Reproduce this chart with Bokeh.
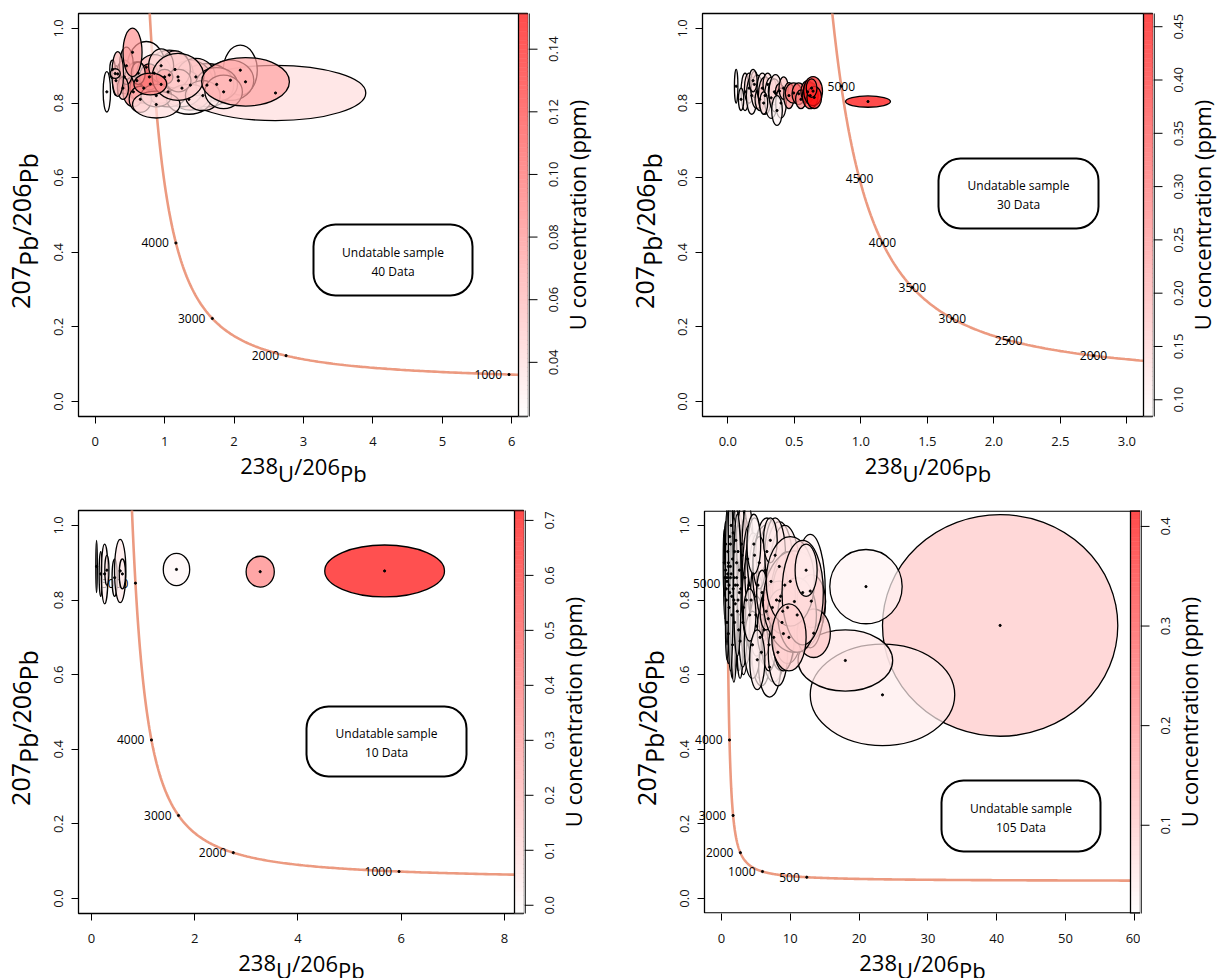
import math
import numpy as np
from bokeh.plotting import figure
from bokeh.layouts import column, row
from bokeh.models import (Range1d, BoxAnnotation, FixedTicker, PrintfTickFormatter, Label)
from bokeh.embed import file_html
from bokeh.resources import INLINE
from bokeh.core.properties import value

FONT = "Open Sans"

# ---------------- data ----------------
# Panel A : 40 data
a_x = [2.597, 2.090, 1.948, 1.610, 1.371, 1.068, 0.736, 0.42, 0.60, 0.95, 0.70, 1.25, 0.55, 1.45,
       0.30, 0.85, 1.05, 1.75, 0.45, 1.15, 0.65, 1.35, 0.78, 0.95, 1.55, 0.40, 1.20, 0.62, 1.85,
       0.88, 1.00, 0.25, 0.880, 1.193, 2.165, 0.325, 0.289, 0.168, 0.538, 0.794]
a_y = [0.827, 0.888, 0.861, 0.848, 0.848, 0.875, 0.896, 0.87, 0.86, 0.85, 0.84, 0.84, 0.83, 0.87,
       0.86, 0.88, 0.83, 0.85, 0.90, 0.89, 0.81, 0.81, 0.87, 0.90, 0.82, 0.84, 0.86, 0.88, 0.83,
       0.82, 0.87, 0.89, 0.796, 0.870, 0.857, 0.878, 0.879, 0.830, 0.936, 0.851]
a_ex = [1.30, 0.245, 0.336, 0.385, 0.336, 0.346, 0.276, 0.12, 0.18, 0.30, 0.20, 0.30, 0.15, 0.28,
        0.05, 0.25, 0.28, 0.30, 0.10, 0.22, 0.16, 0.32, 0.14, 0.18, 0.25, 0.08, 0.18, 0.10, 0.27,
        0.22, 0.12, 0.04, 0.342, 0.372, 0.632, 0.084, 0.072, 0.053, 0.137, 0.236]
a_ey = [0.074, 0.067, 0.054, 0.058, 0.067, 0.067, 0.069, 0.045, 0.05, 0.05, 0.04, 0.05, 0.04, 0.05,
        0.04, 0.05, 0.04, 0.045, 0.05, 0.05, 0.035, 0.04, 0.035, 0.045, 0.04, 0.03, 0.03, 0.03, 0.045,
        0.03, 0.02, 0.025, 0.036, 0.063, 0.065, 0.060, 0.013, 0.054, 0.065, 0.029]
a_u = [0.040, 0.025, 0.050, 0.050, 0.070, 0.060, 0.030, 0.05, 0.07, 0.06, 0.09, 0.04, 0.08, 0.05,
       0.04, 0.06, 0.07, 0.04, 0.05, 0.04, 0.06, 0.03, 0.10, 0.04, 0.04, 0.06, 0.05, 0.04, 0.03,
       0.05, 0.10, 0.03, 0.040, 0.050, 0.069, 0.060, 0.050, 0.025, 0.077, 0.090]

# Panel B : 30 data
b_x = [0.063, 0.13, 0.16, 0.18, 0.20, 0.22, 0.24, 0.26, 0.28, 0.30, 0.326, 0.35, 0.359, 0.389, 0.40,
       0.42, 0.46, 0.495, 0.533, 0.55, 0.60, 0.62, 0.641, 0.65, 0.63, 1.054, 0.10, 0.19, 0.27, 0.37]
b_y = [0.845, 0.83, 0.84, 0.82, 0.85, 0.83, 0.81, 0.84, 0.82, 0.85, 0.814, 0.83, 0.826, 0.832, 0.80,
       0.84, 0.82, 0.827, 0.825, 0.81, 0.83, 0.82, 0.832, 0.815, 0.84, 0.804, 0.81, 0.86, 0.80, 0.78]
b_ex = [0.013, 0.03, 0.035, 0.04, 0.03, 0.045, 0.035, 0.04, 0.05, 0.035, 0.05, 0.045, 0.05, 0.03, 0.04,
        0.035, 0.04, 0.063, 0.05, 0.04, 0.05, 0.06, 0.071, 0.055, 0.04, 0.169, 0.02, 0.03, 0.03, 0.04]
b_ey = [0.045, 0.05, 0.04, 0.05, 0.035, 0.045, 0.03, 0.04, 0.05, 0.03, 0.055, 0.035, 0.05, 0.02, 0.04,
        0.03, 0.035, 0.027, 0.029, 0.025, 0.03, 0.035, 0.039, 0.03, 0.025, 0.0152, 0.03, 0.03, 0.03, 0.04]
b_u = [0.10, 0.12, 0.14, 0.11, 0.16, 0.13, 0.15, 0.12, 0.17, 0.14, 0.11, 0.19, 0.13, 0.22, 0.12,
       0.18, 0.25, 0.30, 0.32, 0.27, 0.36, 0.40, 0.42, 0.44, 0.38, 0.46, 0.11, 0.13, 0.12, 0.10]

# Panel C : 10 data
c_x = [0.10, 0.18, 0.256, 0.30, 0.45, 0.558, 0.60, 1.648, 3.27, 5.68]
c_y = [0.89, 0.87, 0.87, 0.88, 0.86, 0.878, 0.87, 0.882, 0.876, 0.878]
c_ex = [0.015, 0.03, 0.064, 0.04, 0.05, 0.11, 0.06, 0.256, 0.273, 1.16]
c_ey = [0.07, 0.06, 0.08, 0.04, 0.05, 0.085, 0.04, 0.0433, 0.0414, 0.0695]
c_u = [0.04, 0.05, 0.03, 0.06, 0.02, 0.05, 0.04, 0.01, 0.35, 0.70]

# Panel D : 105 data
d_x = [40.5, 23.4, 18.0, 21.0,
       0.6, 0.8, 1.0, 1.2, 1.4, 0.9, 1.6, 1.1, 1.8, 0.7, 1.3, 2.0, 1.5, 2.2, 1.7, 2.4, 0.5, 1.9, 2.6, 1.0,
       2.8, 1.2, 3.0, 2.1, 3.2, 0.8, 1.4, 2.5, 3.4, 1.6, 0.4, 2.3, 2.9, 1.1, 1.9, 2.7, 3.6, 1.3, 2.0, 0.6,
       3.1, 1.7, 2.4, 0.9, 3.8, 1.5, 2.2, 4.0, 0.7, 2.6, 1.0, 1.8, 1.3, 0.8, 2.3,
       4.3, 4.6, 5.0, 5.3, 5.6, 4.8, 6.0, 6.4, 5.8, 6.8, 7.2, 5.1, 6.6, 7.6, 4.5, 8.0, 7.0, 8.4, 5.5,
       6.2, 8.8, 7.4, 9.2, 5.9, 4.1, 6.9, 8.2, 4.7, 7.8, 9.6, 6.5, 5.2, 8.6, 7.1, 9.0,
       8.45, 8.9, 10.6, 12.9, 13.05, 13.4, 11.0, 10.0, 11.8, 9.8, 12.3]
d_y = [0.732, 0.546, 0.638, 0.836,
       0.88, 0.85, 0.90, 0.82, 0.87, 0.93, 0.91, 0.78, 0.86, 0.80, 0.95, 0.84, 0.76, 0.90, 0.98, 0.80,
       0.86, 0.74, 0.88, 0.71, 0.83, 0.97, 0.92, 0.96, 0.78, 0.74, 1.00, 0.72, 0.86, 0.68, 0.90, 0.77,
       0.95, 0.84, 0.93, 0.69, 0.80, 0.89, 0.79, 0.95, 0.74, 0.83, 0.93, 0.87, 0.91, 0.81, 0.86, 0.84,
       0.83, 0.82, 0.89, 0.80, 0.86, 0.86, 0.84,
       0.80, 0.87, 0.76, 0.84, 0.70, 0.92, 0.80, 0.88, 0.66, 0.75, 0.85, 0.73, 0.93, 0.70, 0.68, 0.80,
       0.62, 0.89, 0.90, 0.72, 0.74, 0.78, 0.84, 0.82, 0.76, 0.68, 0.66, 0.95, 0.92, 0.78, 0.77, 0.64,
       0.81, 0.96, 0.71,
       0.798, 0.770, 0.796, 0.824, 0.797, 0.711, 0.76, 0.85, 0.82, 0.70, 0.88]
d_ex = [17.1, 10.5, 6.88, 5.26,
        0.25, 0.30, 0.28, 0.40, 0.35, 0.22, 0.45, 0.32, 0.50, 0.22, 0.30, 0.55, 0.35, 0.60, 0.35, 0.60,
        0.18, 0.45, 0.65, 0.30, 0.70, 0.25, 0.80, 0.40, 0.85, 0.22, 0.30, 0.50, 0.80, 0.35, 0.15, 0.45,
        0.60, 0.20, 0.25, 0.45, 0.90, 0.22, 0.30, 0.18, 0.65, 0.25, 0.35, 0.15, 0.85, 0.20, 0.32, 1.00,
        0.14, 0.40, 0.35, 0.50, 0.40, 0.25, 0.55,
        1.3, 1.2, 1.5, 1.4, 1.6, 1.1, 1.8, 1.9, 1.4, 2.0, 2.1, 1.0, 1.6, 1.8, 1.2, 2.3, 1.6, 2.0, 0.9,
        1.0, 2.2, 1.3, 2.4, 0.8, 0.9, 1.0, 1.4, 1.0, 1.5, 2.6, 0.9, 1.1, 1.2, 1.0, 1.6,
        2.54, 2.2, 4.53, 2.18, 2.06, 2.42, 2.8, 3.5, 3.0, 2.5, 1.6]
d_ey = [0.297, 0.136, 0.082, 0.0995,
        0.12, 0.10, 0.13, 0.12, 0.14, 0.10, 0.12, 0.09, 0.13, 0.08, 0.09, 0.15, 0.10, 0.14, 0.07, 0.16,
        0.11, 0.12, 0.15, 0.08, 0.17, 0.08, 0.14, 0.10, 0.18, 0.10, 0.06, 0.11, 0.16, 0.09, 0.09, 0.08,
        0.10, 0.06, 0.07, 0.10, 0.17, 0.05, 0.06, 0.06, 0.12, 0.05, 0.07, 0.04, 0.15, 0.06, 0.05, 0.16,
        0.05, 0.06, 0.20, 0.22, 0.25, 0.18, 0.19,
        0.13, 0.11, 0.12, 0.14, 0.11, 0.10, 0.15, 0.12, 0.09, 0.13, 0.16, 0.08, 0.09, 0.12, 0.09, 0.14,
        0.08, 0.12, 0.07, 0.07, 0.13, 0.08, 0.16, 0.06, 0.07, 0.07, 0.09, 0.08, 0.10, 0.15, 0.05, 0.08,
        0.08, 0.06, 0.10,
        0.053, 0.06, 0.136, 0.152, 0.071, 0.065, 0.10, 0.12, 0.14, 0.09, 0.07]
d_u = [0.10, 0.04, 0.05, 0.03,
       0.02, 0.03, 0.02, 0.03, 0.04, 0.02, 0.03, 0.02, 0.04, 0.02, 0.03, 0.03, 0.02, 0.04, 0.03, 0.03,
       0.02, 0.03, 0.05, 0.02, 0.04, 0.03, 0.05, 0.03, 0.04, 0.02, 0.02, 0.03, 0.06, 0.02, 0.02, 0.04,
       0.04, 0.03, 0.04, 0.02, 0.05, 0.04, 0.03, 0.02, 0.03, 0.05, 0.04, 0.03, 0.05, 0.03, 0.06, 0.04,
       0.02, 0.05, 0.02, 0.03, 0.02, 0.02, 0.03,
       0.05, 0.04, 0.03, 0.06, 0.04, 0.03, 0.05, 0.06, 0.03, 0.07, 0.04, 0.05, 0.04, 0.05, 0.03, 0.06,
       0.03, 0.05, 0.05, 0.07, 0.06, 0.08, 0.05, 0.04, 0.04, 0.06, 0.04, 0.03, 0.05, 0.07, 0.08, 0.04,
       0.09, 0.04, 0.07,
       0.14, 0.12, 0.08, 0.03, 0.11, 0.10, 0.09, 0.06, 0.07, 0.09, 0.04]

# concordia age labels (Ma)
a_ages = [1000, 2000, 3000, 4000, 5000]
b_ages = [2000, 2500, 3000, 3500, 4000, 4500, 5000]
c_ages = [1000, 2000, 3000, 4000, 5000]
d_ages = [500, 1000, 2000, 3000, 4000, 5000]

a_ticks = [0, 1, 2, 3, 4, 5, 6]
b_ticks = [0.0, 0.5, 1.0, 1.5, 2.0, 2.5, 3.0]
c_ticks = [0, 2, 4, 6, 8]
d_ticks = [0, 10, 20, 30, 40, 50, 60]
y_ticks = [0.0, 0.2, 0.4, 0.6, 0.8, 1.0]

a_cb_ticks = [0.04, 0.06, 0.08, 0.10, 0.12, 0.14]
b_cb_ticks = [0.10, 0.15, 0.20, 0.25, 0.30, 0.35, 0.40, 0.45]
c_cb_ticks = [0.0, 0.1, 0.2, 0.3, 0.4, 0.5, 0.6, 0.7]
d_cb_ticks = [0.1, 0.2, 0.3, 0.4]

notes = ["40 Data", "30 Data", "10 Data", "105 Data"]

# ---------------- helpers ----------------
L238 = 1.55125e-4   # 1/Myr
L235 = 9.8485e-4
U85 = 137.88


def concordia(t):
    t = np.asarray(t, dtype=float)
    e8 = np.exp(L238 * t) - 1.0
    e5 = np.exp(L235 * t) - 1.0
    return 1.0 / e8, e5 / e8 / U85


def ramp_t(u, lo, hi):
    return min(max((u - lo) / (hi - lo), 0.0), 1.0)


def ramp_hex(u, lo, hi):
    g = int(round(255 * (1 - ramp_t(u, lo, hi))))
    return "#ff%02x%02x" % (g, g)


def ramp_hex_blend(u, lo, hi, alpha=0.7):
    g = int(round(255 - alpha * 255 * ramp_t(u, lo, hi)))
    return "#ff%02x%02x" % (g, g)


CW = {"0": 0.572, "1": 0.572, "2": 0.572, "3": 0.572, "4": 0.572, "5": 0.572, "6": 0.572,
      "7": 0.572, "8": 0.572, "9": 0.572, "U": 0.733, "/": 0.367, "P": 0.603, "b": 0.613}
INK = 0.357   # half digit height (em): ink centre above the baseline


def tw(s, fs):
    return sum(CW.get(c, 0.6) for c in s) * fs


YR = (-0.04, 1.04)
BOTTOM_BORDER = 40
LEFT_BORDER = 33


def strip(width, top, fh, height, yr):
    """A plain figure whose frame fills the whole canvas; the y range is stretched so
    that it lines up with the neighbouring plot frame (top..top+fh)."""
    bot = height - top - fh
    dpp = (yr[1] - yr[0]) / fh
    s = figure(frame_width=width, frame_height=height, x_range=Range1d(0, width),
               y_range=Range1d(yr[0] - bot * dpp, yr[1] + top * dpp), min_border=0,
               x_axis_location=None, y_axis_location=None,
               output_backend="svg", toolbar_location=None)
    s.extra_y_ranges = {"px": Range1d(-bot, fh + top)}
    s.grid.visible = False
    s.outline_line_color = None
    s.background_fill_color = "white"
    s.border_fill_color = "white"
    return s


def add_ylabel(s, s_left, cfg):
    """207Pb/206Pb, rotated, drawn in a strip figure (pixel coordinates)."""
    fl, ft, fw, fh = cfg["frame"]
    fs = cfg["yfs"]
    pieces = [("207", 0), ("Pb", 1), ("/206", 0), ("Pb", 1)]
    total = sum(tw(t, fs) for t, _ in pieces)
    centre = fh / 2 - cfg["ylab_shift"]          # measured from frame bottom
    off = centre - total / 2
    base = fl - s_left - cfg["ylab_base"] - INK * fs
    xs, ys, ts = [], [], []
    for t, sub in pieces:
        xs.append(base + (7 if sub else 0))
        ys.append(off)
        ts.append(t)
        off += tw(t, fs)
    s.text(xs, ys, text=ts, angle=math.pi / 2, text_align="left", text_baseline="middle",
           text_font=value(FONT), text_font_size=value("%dpx" % fs), text_color="black",
           y_range_name="px")


def add_cbar_side(s, cfg):
    """colour-bar ticks, labels and title, in the strip just right of the frame."""
    cb0, cb1 = cfg["cbr"]
    fl, ft, fw, fh = cfg["frame"]
    ticks = cfg["cbticks"]
    s.segment(x0=[0.6], y0=[cb0], x1=[0.6], y1=[cb1], line_color="black", line_width=1.3)
    s.segment(x0=[0] * len(ticks), y0=ticks, x1=[9] * len(ticks), y1=ticks,
              line_color="black", line_width=1)
    s.text([24.5] * len(ticks), ticks, text=[cfg["cbfmt"] % t for t in ticks], angle=math.pi / 2,
           text_align="center", text_baseline="middle", text_font=value(FONT),
           text_font_size=value("13px"), text_color="#111111")
    s.text([48], [fh / 2], text=["U concentration (ppm)"], angle=math.pi / 2,
           text_align="center", text_baseline="middle", text_font=value(FONT),
           text_font_size=value("22px"), text_color="black", y_range_name="px")


def frame_geometry(cfg, gl):
    fl, ft, fw, fh = cfg["frame"]
    x0, x1 = cfg["xr"]
    ppu = fw / (x1 - x0)
    ext = cfg.get("ext", False)
    fl_a = gl if ext else fl               # actual left edge of the drawing frame
    fw_a = fl + fw - fl_a
    x0_a = x0 - (fl - fl_a) / ppu
    return fl_a, fw_a, x0_a, ppu


def build_main(cfg, gl, row_top):
    fl, ft, fw, fh = cfg["frame"]
    x0, x1 = cfg["xr"]
    y0, y1 = YR
    cb0, cb1 = cfg["cbr"]
    ext = cfg.get("ext", False)
    fl_a, fw_a, x0_a, ppu = frame_geometry(cfg, gl)
    p = figure(frame_width=fw_a, frame_height=fh,
               x_range=Range1d(x0_a, x1), y_range=Range1d(y0, y1),
               min_border_left=fl_a - gl, min_border_top=ft - row_top,
               min_border_right=0, min_border_bottom=BOTTOM_BORDER,
               output_backend="svg", toolbar_location=None)
    p.extra_y_ranges = {"cb": Range1d(cb0, cb1)}
    p.grid.visible = False
    p.outline_line_color = None if ext else "black"
    p.outline_line_width = 1.3
    p.background_fill_color = "white"
    p.border_fill_color = "white"

    def dx(px):
        return x0_a + (px - fl_a) / ppu

    def dy(py):
        return y1 - (py - ft) / fh * (y1 - y0)

    xa = p.xaxis[0]
    xa.ticker = FixedTicker(ticks=cfg["xticks"])
    xa.formatter = PrintfTickFormatter(format=cfg["xfmt"])
    ya = p.yaxis[0]
    ya.ticker = FixedTicker(ticks=y_ticks)
    ya.formatter = PrintfTickFormatter(format="%.1f")
    ya.major_label_orientation = "vertical"
    if ext:
        ya.fixed_location = x0
    for ax in (xa, ya):
        ax.axis_line_color = None
        ax.major_tick_in = 0
        ax.major_tick_out = 7
        ax.minor_tick_in = 0
        ax.minor_tick_out = 0
        ax.major_tick_line_color = "black"
        ax.major_tick_line_width = 1
        ax.major_label_text_font = FONT
        ax.major_label_text_font_size = "13px"
        ax.major_label_text_color = "#111111"
        ax.axis_label = None
    xa.major_label_standoff = 13
    ya.major_label_standoff = 8

    # concordia
    tt = np.geomspace(20, cfg["tmax"], 700)
    cx, cy = concordia(tt)
    p.line(cx, cy, line_color="#EC9A80", line_width=2.6)
    ax_, ay_ = concordia(cfg["ages"])
    p.scatter(ax_, ay_, size=2.2, color="black")
    if cfg["center_labels"]:
        p.text(ax_, ay_, text=[str(a) for a in cfg["ages"]], text_align="center",
               text_baseline="middle", text_font=value(FONT), text_font_size=value("12px"),
               text_color="black")
    else:
        p.text(ax_, ay_, text=[str(a) for a in cfg["ages"]], text_align="right",
               text_baseline="middle", x_offset=-7, text_font=value(FONT),
               text_font_size=value("12px"), text_color="black")

    # ellipses
    cols = [ramp_hex(u, cb0, cb1) for u in cfg["u"]]
    p.ellipse(cfg["x"], cfg["y"], width=[2 * e for e in cfg["ex"]],
              height=[2 * e for e in cfg["ey"]], fill_color=cols, fill_alpha=0.7,
              line_color="black", line_width=1.3)
    p.scatter(cfg["x"], cfg["y"], size=2.2, color="black")

    # colour bar inside the right edge of the frame
    cbx0 = x1 - 10.0 / ppu
    n = 90
    edges = np.linspace(cb0, cb1, n + 1)
    mids = 0.5 * (edges[:-1] + edges[1:])
    ccols = [ramp_hex_blend(m, cb0, cb1) for m in mids]
    p.quad(left=cbx0, right=x1, bottom=edges[:-1], top=edges[1:], fill_color=ccols,
           line_color=ccols, line_width=0.6, y_range_name="cb")
    p.quad(left=[cbx0], right=[x1], bottom=[cb0], top=[cb1], fill_color=None,
           line_color="black", line_width=1.3, y_range_name="cb")

    if ext:   # plot box drawn by hand, left edge at the data box edge
        d = 0.65 * (y1 - y0) / fh
        p.line([x1, x0, x0, x1], [y1 - d, y1 - d, y0 + d, y0 + d], line_color="black",
               line_width=1.3)

    # note box
    bl, bt, br, bb = cfg["box"]
    p.add_layout(BoxAnnotation(left=dx(bl), right=dx(br), bottom=dy(bb), top=dy(bt),
                               fill_color="white", fill_alpha=1.0, line_color="black",
                               line_alpha=1.0, line_width=2, border_radius=22))
    bcx = dx((bl + br) / 2)
    p.add_layout(Label(x=bcx, y=dy((bt + bb) / 2), y_offset=8, text="Undatable sample",
                       text_align="center", text_baseline="middle", text_font=FONT,
                       text_font_size="12px", text_color="black"))
    p.add_layout(Label(x=bcx, y=dy((bt + bb) / 2), y_offset=-11, text=cfg["note"],
                       text_align="center", text_baseline="middle", text_font=FONT,
                       text_font_size="12px", text_color="black"))
    return p


def build_xlabel(cfg, gl, height, row_bottom):
    """x title 238U/206Pb in a strip under the plot; its frame has the same left border
    and width as the plot frame above it, and it works in page pixel coordinates."""
    fl, ft, fw, fh = cfg["frame"]
    fl_a, fw_a, _, _ = frame_geometry(cfg, gl)
    s = figure(frame_width=fw_a, frame_height=height,
               x_range=Range1d(fl_a, fl_a + fw_a),
               y_range=Range1d(row_bottom, row_bottom - height),
               min_border_left=fl_a - gl, min_border_right=0, min_border_top=0,
               min_border_bottom=0, x_axis_location=None, y_axis_location=None,
               output_backend="svg", toolbar_location=None)
    s.grid.visible = False
    s.outline_line_color = None
    s.border_fill_color = "white"
    s.background_fill_color = "white"
    fs = 22
    pieces = [("238", 0), ("U", 1), ("/206", 0), ("Pb", 1)]
    total = sum(tw(t, fs) for t, _ in pieces)
    base = ft + fh + cfg["xlab_base"] - INK * fs          # page y of digit ink centre
    off = fl + fw / 2 - total / 2
    xs, ys, ts = [], [], []
    for t, sub in pieces:
        xs.append(off)
        ys.append(base + (7 if sub else 0))
        ts.append(t)
        off += tw(t, fs)
    s.text(xs, ys, text=ts, text_align="left", text_baseline="middle",
           text_font=value(FONT), text_font_size=value("%dpx" % fs), text_color="black")
    return s


cfgs = [
    dict(frame=(78, 13, 450, 403), xr=(-0.24, 6.24), cbr=(0.0227, 0.1514),
         xticks=a_ticks, xfmt="%d", cbticks=a_cb_ticks, cbfmt="%.2f", ages=a_ages,
         center_labels=False, tmax=5300, x=a_x, y=a_y, ex=a_ex, ey=a_ey, u=a_u,
         box=(313, 224, 472, 295), note=notes[0]),
    dict(frame=(702, 13, 451, 403), xr=(-0.19, 3.2), cbr=(0.0843, 0.4624),
         xticks=b_ticks, xfmt="%.1f", cbticks=b_cb_ticks, cbfmt="%.2f", ages=b_ages,
         center_labels=True, tmax=5300, x=b_x, y=b_y, ex=b_ex, ey=b_ey, u=b_u,
         box=(938, 158, 1098, 228), note=notes[1]),
    dict(frame=(78, 510, 446, 403), xr=(-0.25, 8.39), cbr=(-0.015, 0.718),
         xticks=c_ticks, xfmt="%d", cbticks=c_cb_ticks, cbfmt="%.1f", ages=c_ages,
         center_labels=False, tmax=5300, x=c_x, y=c_y, ex=c_ex, ey=c_ey, u=c_u,
         box=(306, 706, 466, 776), note=notes[2]),
    dict(frame=(704, 510, 436, 403), xr=(-2.47, 60.9), cbr=(0.0114, 0.416),
         xticks=d_ticks, xfmt="%d", cbticks=d_cb_ticks, cbfmt="%.1f", ages=d_ages,
         center_labels=False, tmax=5250, x=d_x, y=d_y, ex=d_ex, ey=d_ey, u=d_u,
         box=(941, 780, 1100, 851), note=notes[3], ext=True),
]
for c in cfgs:
    c.update(yfs=25, ylab_base=49, ylab_shift=16, xlab_base=57)

PAGE_W = 1225
ROWS = [(0, 488), (488, 490)]   # (top, height)


def build_row(left_cfg, right_cfg, top, height):
    fl1, ft, fw1, fh = left_cfg["frame"]
    fl2, _, fw2, _ = right_cfg["frame"]
    g1 = fl1 - LEFT_BORDER
    g2 = fl2 - LEFT_BORDER
    r1 = fl1 + fw1
    r2 = fl2 + fw2
    ftop = ft - top
    # strips
    s0 = strip(g1, ftop, fh, height, YR)
    add_ylabel(s0, 0, left_cfg)
    s1 = strip(g2 - r1, ftop, fh, height, left_cfg["cbr"])
    add_cbar_side(s1, left_cfg)
    add_ylabel(s1, r1, right_cfg)
    s2 = strip(PAGE_W - r2, ftop, fh, height, right_cfg["cbr"])
    add_cbar_side(s2, right_cfg)
    # mains + x-label strips
    m1 = build_main(left_cfg, g1, top)
    m2 = build_main(right_cfg, g2, top)
    mh = ftop + fh + BOTTOM_BORDER
    b1 = build_xlabel(left_cfg, g1, height - mh, top + height)
    b2 = build_xlabel(right_cfg, g2, height - mh, top + height)
    return row(s0, column(m1, b1), s1, column(m2, b2), s2)


layout = column(build_row(cfgs[0], cfgs[1], *ROWS[0]), build_row(cfgs[2], cfgs[3], *ROWS[1]))
open("out.html", "w").write(file_html(layout, INLINE))
